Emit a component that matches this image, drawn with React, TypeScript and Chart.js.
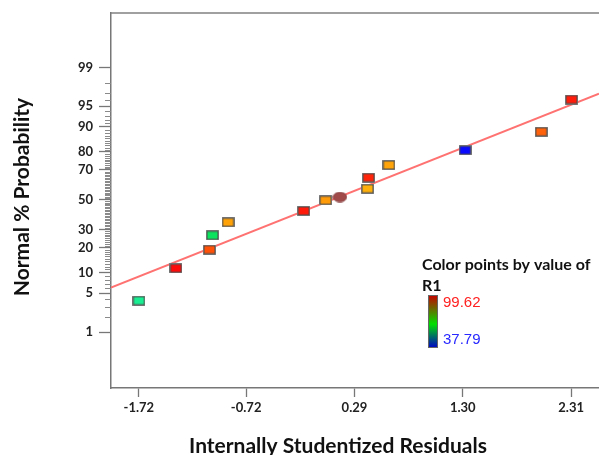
import React, { useEffect, useRef } from "react";
import { Chart, registerables } from "chart.js";

Chart.register(...registerables);

// ---- data ----
const residuals = [-1.72, -1.375, -1.062, -1.034, -0.888, -0.184, 0.021, 0.412, 0.422, 0.611, 1.322, 2.032, 2.314];
const probabilities = [3.8, 11.4, 19.0, 26.6, 34.6, 42.2, 49.6, 57.7, 65.1, 72.9, 80.8, 88.4, 96.1];
const pointColors = ["#19EE92", "#FF0A0A", "#FF5208", "#0BE35E", "#FFA208", "#FF1A0A", "#FF9A08", "#FFB00A", "#FF240A", "#FFA40A", "#0A0AFF", "#FF620A", "#FF1C0A"];
const centerResidual = [0.154];
const centerProbability = [51.9];
const lineResiduals = [-1.98, 2.57];
const lineProbabilities = [6.1, 96.88];
const xTickValues = [-1.72, -0.72, 0.29, 1.3, 2.31];
const xTickLabels = ["-1.72", "-0.72", "0.29", "1.30", "2.31"];
const yMajorPercents = [1, 5, 10, 20, 30, 50, 70, 80, 90, 95, 99];
const legendTitle = ["Color points by value of", "R1"];
const legendHigh = "99.62";
const legendLow = "37.79";
const xTitle = "Internally Studentized Residuals";
const yTitle = "Normal % Probability";

// inverse normal CDF (Acklam)
function probit(p: number): number {
  const a = [-3.969683028665376e1, 2.209460984245205e2, -2.759285104469687e2, 1.38357751867269e2, -3.066479806614716e1, 2.506628277459239];
  const b = [-5.447609879822406e1, 1.615858368580409e2, -1.556989798598866e2, 6.680131188771972e1, -1.328068155288572e1];
  const c = [-7.784894002430293e-3, -3.223964580411365e-1, -2.400758277161838, -2.549732539343734, 4.374664141464968, 2.938163982698783];
  const d = [7.784695709041462e-3, 3.224671290700398e-1, 2.445134137142996, 3.754408661907416];
  const pl = 0.02425;
  let q: number, r: number;
  if (p < pl) {
    q = Math.sqrt(-2 * Math.log(p));
    return (((((c[0] * q + c[1]) * q + c[2]) * q + c[3]) * q + c[4]) * q + c[5]) / ((((d[0] * q + d[1]) * q + d[2]) * q + d[3]) * q + 1);
  } else if (p <= 1 - pl) {
    q = p - 0.5;
    r = q * q;
    return ((((((a[0] * r + a[1]) * r + a[2]) * r + a[3]) * r + a[4]) * r + a[5]) * q) / (((((b[0] * r + b[1]) * r + b[2]) * r + b[3]) * r + b[4]) * r + 1);
  } else {
    q = Math.sqrt(-2 * Math.log(1 - p));
    return -(((((c[0] * q + c[1]) * q + c[2]) * q + c[3]) * q + c[4]) * q + c[5]) / ((((d[0] * q + d[1]) * q + d[2]) * q + d[3]) * q + 1);
  }
}

function makeRect(color: string): HTMLCanvasElement {
  const cv = document.createElement("canvas");
  cv.width = 13;
  cv.height = 10;
  const ctx = cv.getContext("2d")!;
  ctx.fillStyle = "#9a9a9a";
  ctx.fillRect(0, 0, 13, 10);
  ctx.fillStyle = "#4a4a4a";
  ctx.fillRect(0.5, 0.5, 12, 9);
  ctx.fillStyle = color;
  ctx.fillRect(1.5, 1.5, 10, 7);
  return cv;
}

function makeEllipse(): HTMLCanvasElement {
  const cv = document.createElement("canvas");
  cv.width = 15;
  cv.height = 11;
  const ctx = cv.getContext("2d")!;
  ctx.beginPath();
  ctx.ellipse(7.5, 5.5, 6.8, 4.8, 0, 0, Math.PI * 2);
  ctx.fillStyle = "#A04A4A";
  ctx.fill();
  ctx.strokeStyle = "#8A4444";
  ctx.lineWidth = 1;
  ctx.stroke();
  return cv;
}

const decorPlugin = {
  id: "decor",
  afterDraw(chart: any) {
    const ctx = chart.ctx;
    const area = chart.chartArea;
    const y = chart.scales.y;
    ctx.save();
    // top border
    ctx.strokeStyle = "#808080";
    ctx.lineWidth = 1.5;
    ctx.beginPath();
    ctx.moveTo(area.left, area.top);
    ctx.lineTo(chart.width, area.top);
    ctx.stroke();
    // minor ticks
    ctx.strokeStyle = "#8a8a8a";
    ctx.lineWidth = 1;
    for (let p = 1; p <= 99; p++) {
      if (yMajorPercents.includes(p)) continue;
      const py = Math.round(y.getPixelForValue(probit(p / 100))) + 0.5;
      ctx.beginPath();
      ctx.moveTo(area.left - 6, py);
      ctx.lineTo(area.left, py);
      ctx.stroke();
    }
    // axis titles
    ctx.fillStyle = "#111";
    ctx.font = "bold 21px Lato";
    ctx.textAlign = "center";
    ctx.textBaseline = "middle";
    ctx.fillText(xTitle, 338, 446);
    ctx.save();
    ctx.translate(22, 197);
    ctx.rotate(-Math.PI / 2);
    ctx.fillText(yTitle, 0, 0);
    ctx.restore();
    // color legend
    ctx.textAlign = "left";
    ctx.font = "bold 16px Lato";
    ctx.fillText(legendTitle[0], 422, 265);
    ctx.fillText(legendTitle[1], 422, 286);
    const bx = 428, by = 295, bw = 10, bh = 53;
    const g = ctx.createLinearGradient(0, by, 0, by + bh);
    g.addColorStop(0, "#C80000");
    g.addColorStop(0.55, "#00E000");
    g.addColorStop(1, "#0000C8");
    ctx.fillStyle = g;
    ctx.fillRect(bx, by, bw, bh);
    ctx.strokeStyle = "#666";
    ctx.lineWidth = 1;
    ctx.strokeRect(bx + 0.5, by + 0.5, bw - 1, bh - 1);
    ctx.font = "15px 'Liberation Sans'";
    ctx.fillStyle = "#FF2020";
    ctx.fillText(legendHigh, 443, 303);
    ctx.fillStyle = "#2828FF";
    ctx.fillText(legendLow, 443, 340);
    ctx.restore();
  },
};

export default function App() {
  const ref = useRef<HTMLCanvasElement>(null);
  useEffect(() => {
    const rects = pointColors.map(makeRect);
    const chart = new Chart(ref.current!, {
      type: "scatter",
      data: {
        datasets: [
          {
            label: "points",
            data: residuals.map((r, i) => ({ x: r, y: probit(probabilities[i] / 100) })),
            pointStyle: rects as any,
            pointRadius: 6,
            order: 1,
          },
          {
            label: "center",
            data: centerResidual.map((r, i) => ({ x: r, y: probit(centerProbability[i] / 100) })),
            pointStyle: makeEllipse() as any,
            pointRadius: 7,
            order: 0,
          },
          {
            type: "line",
            label: "fit",
            data: lineResiduals.map((r, i) => ({ x: r, y: probit(lineProbabilities[i] / 100) })),
            borderColor: "#FF7272",
            borderWidth: 2,
            pointRadius: 0,
            showLine: true,
            order: 3,
          } as any,
        ],
      },
      options: {
        animation: false,
        responsive: false,
        layout: { autoPadding: false, padding: { top: 13, left: 0, right: 0, bottom: 0 } },
        plugins: { legend: { display: false }, tooltip: { enabled: false } },
        scales: {
          x: {
            type: "linear",
            min: -1.98,
            max: 2.57,
            afterBuildTicks: (s: any) => {
              s.ticks = xTickValues.map((v) => ({ value: v }));
            },
            afterFit: (s: any) => {
              s.height = 67;
              s.paddingLeft = 0;
              s.paddingRight = 0;
            },
            ticks: {
              callback: (_v: any, i: number) => xTickLabels[i],
              font: { family: "Lato", weight: "bold", size: 13 },
              color: "#222",
              padding: 3,
              maxRotation: 0,
              autoSkip: false,
            },
            grid: { drawOnChartArea: false, tickLength: 9, color: "#777", tickWidth: 1.3 },
            border: { color: "#777", width: 1.5 },
          },
          y: {
            type: "linear",
            min: -3.311,
            max: 3.284,
            afterBuildTicks: (s: any) => {
              s.ticks = yMajorPercents.map((p) => ({ value: probit(p / 100) }));
            },
            afterFit: (s: any) => {
              s.width = 111;
              s.paddingTop = 0;
              s.paddingBottom = 0;
            },
            ticks: {
              callback: (_v: any, i: number) => String(yMajorPercents[i]),
              font: { family: "Lato", weight: "bold", size: 13 },
              color: "#222",
              padding: 6,
              autoSkip: false,
            },
            grid: { drawOnChartArea: false, tickLength: 12, color: "#777", tickWidth: 1.3 },
            border: { color: "#777", width: 1.5 },
          },
        },
      },
      plugins: [decorPlugin],
    });
    return () => chart.destroy();
  }, []);
  return (
    <div style={{ position: "absolute", left: 0, top: 0, width: 599, height: 455, background: "#fff" }}>
      <canvas ref={ref} width={599} height={455} style={{ display: "block" }} />
    </div>
  );
}
